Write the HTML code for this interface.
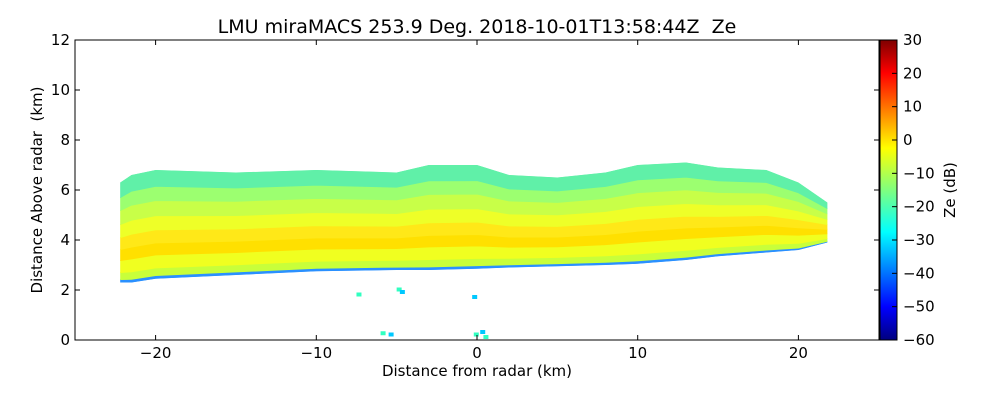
<!DOCTYPE html>
<html><head><meta charset="utf-8"><style>
body{margin:0;background:#fff;}
svg text{font-family:"DejaVu Sans","Liberation Sans",sans-serif;fill:#000;}
</style></head><body>
<svg width="1000" height="400">
<defs>
<linearGradient id="jet" x1="0" y1="1" x2="0" y2="0">
<stop offset="0" stop-color="#00007f"/><stop offset="0.11" stop-color="#0000ff"/>
<stop offset="0.36" stop-color="#00ffff"/><stop offset="0.5" stop-color="#7fff7f"/>
<stop offset="0.64" stop-color="#ffff00"/><stop offset="0.89" stop-color="#ff0000"/>
<stop offset="1" stop-color="#7f0000"/></linearGradient>
<clipPath id="plotclip"><rect x="75" y="40" width="804" height="300"/></clipPath>
<clipPath id="swclip"><polygon id="swpoly"/></clipPath>
</defs>
<text x="477" y="33" font-size="19" text-anchor="middle" xml:space="preserve">LMU miraMACS 253.9 Deg. 2018-10-01T13:58:44Z  Ze</text>
<g clip-path="url(#plotclip)"><g clip-path="url(#swclip)" id="bands"></g><g id="specks"></g></g>
<rect x="75" y="40" width="804" height="300" fill="none" stroke="#000"/>
<g id="xticks"></g>
<g id="yticks"></g>
<text x="477" y="376" font-size="15" text-anchor="middle">Distance from radar (km)</text>
<text transform="translate(42,190) rotate(-90)" font-size="15" text-anchor="middle" xml:space="preserve">Distance Above radar  (km)</text>
<rect x="880" y="40" width="17" height="300" fill="url(#jet)" stroke="#000"/>
<g id="cticks"></g>
<text transform="translate(955,190) rotate(-90)" font-size="15" text-anchor="middle">Ze (dB)</text>
</svg>
<script>
const xTicks=[-20,-10,0,10,20];
const yTicks=[0,2,4,6,8,10,12];
const cTicks=[30,20,10,0,-10,-20,-30,-40,-50,-60];
const swX=[-22.2,-21.5,-20,-15,-10,-5,-3,0,2,5,8,10,13,15,18,20,21.8];
const swTop=[6.3,6.6,6.8,6.7,6.8,6.7,7.0,7.0,6.6,6.5,6.7,7.0,7.1,6.9,6.8,6.3,5.5];
const swBot=[2.3,2.3,2.45,2.6,2.75,2.8,2.8,2.85,2.9,2.95,3.0,3.05,3.2,3.35,3.5,3.6,3.9];
const layerLo=[0,0.03,0.1,0.22,0.33,0.45,0.58,0.72,0.85];
const layerHi=[0.03,0.1,0.22,0.33,0.45,0.58,0.72,0.85,1.0];
const layerColor=["#2a90ff","#c8ff3a","#f0ff20","#ffe000","#ffe818","#eeff28","#c8ff48","#9cff70","#60f0a8"];
const speckX=[-6,-5.5,-5,-4.8,-7.5,-0.3,-0.2,0.2,0.4];
const speckY=[0.35,0.3,2.1,2.0,1.9,1.8,0.3,0.4,0.2];
const X=v=>477+v*16.07, Y=v=>340-v*25, C=v=>340-(v+60)*300/90;
const NS='http://www.w3.org/2000/svg';
function mk(t,a,p){const e=document.createElementNS(NS,t);for(const k in a)e.setAttribute(k,a[k]);p.appendChild(e);return e;}
const pts=swX.map((x,i)=>X(x)+','+Y(swTop[i])).concat(swX.map((x,i)=>X(x)+','+Y(swBot[i])).reverse()).join(' ');
document.getElementById('swpoly').setAttribute('points',pts);
const bands=document.getElementById('bands');
layerLo.forEach((lo,j)=>{
  const hi=layerHi[j];
  const top=swX.map((x,i)=>X(x)+','+Y(swBot[i]+(swTop[i]-swBot[i])*hi));
  const bot=swX.map((x,i)=>X(x)+','+Y(swBot[i]+(swTop[i]-swBot[i])*lo)).reverse();
  const p=mk('polygon',{points:top.concat(bot).join(' '),fill:layerColor[j],stroke:layerColor[j]},bands);
  
  
});
const sp=document.getElementById('specks');
speckX.forEach((x,i)=>{const r=mk('rect',{x:X(x),y:Y(speckY[i]),width:5,height:4,fill:i%2?'#00c8ff':'#30ffc0'},sp);
});
const xt=document.getElementById('xticks');
xTicks.forEach(v=>{mk('line',{x1:X(v),x2:X(v),y1:340,y2:335,stroke:'#000'},xt);mk('line',{x1:X(v),x2:X(v),y1:40,y2:45,stroke:'#000'},xt);
const t=mk('text',{x:X(v),y:358,'font-size':15,'text-anchor':'middle'},xt);t.textContent=v<0?'\u2212'+(-v):v;
});
const yt=document.getElementById('yticks');
yTicks.forEach(v=>{mk('line',{x1:75,x2:80,y1:Y(v),y2:Y(v),stroke:'#000'},yt);mk('line',{x1:874,x2:879,y1:Y(v),y2:Y(v),stroke:'#000'},yt);
const t=mk('text',{x:70,y:Y(v)+5,'font-size':15,'text-anchor':'end'},yt);t.textContent=v;
});
const ct=document.getElementById('cticks');
cTicks.forEach(v=>{mk('line',{x1:892,x2:897,y1:C(v),y2:C(v),stroke:'#000'},ct);
const t=mk('text',{x:903,y:C(v)+5,'font-size':15},ct);t.textContent=v<0?'\u2212'+(-v):v;
});
</script>
</body></html>
